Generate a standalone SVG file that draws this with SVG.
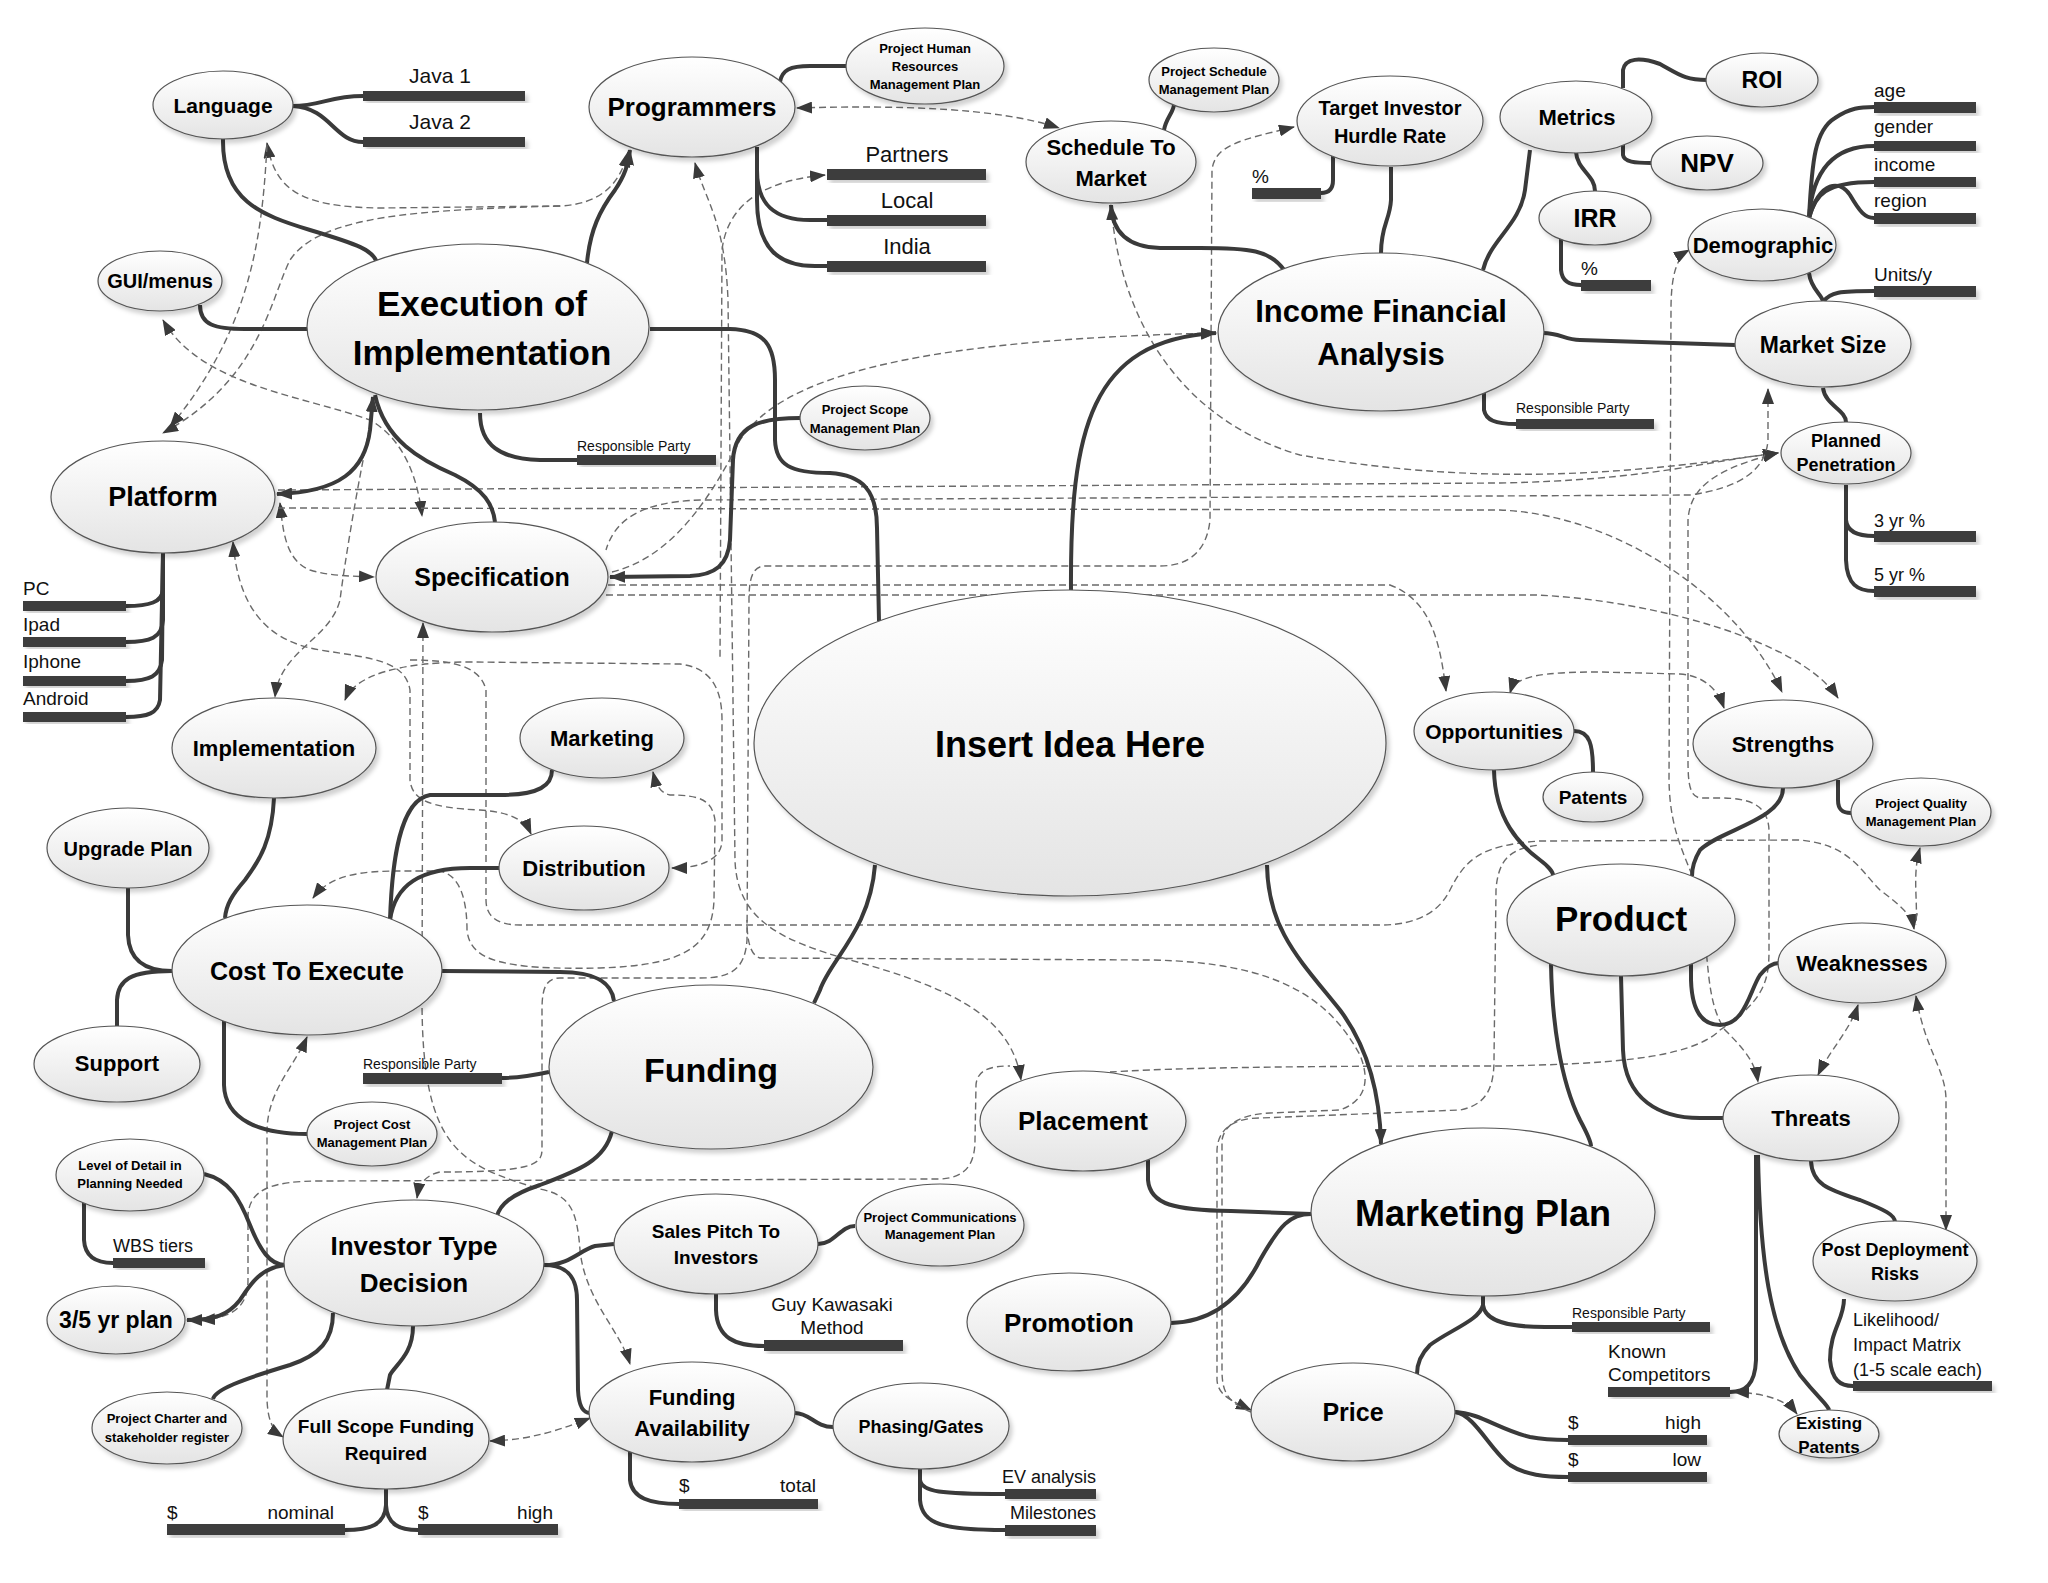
<svg xmlns="http://www.w3.org/2000/svg" width="2048" height="1583" viewBox="0 0 2048 1583">
<defs>
<linearGradient id="g" x1="0" y1="0" x2="0" y2="1"><stop offset="0" stop-color="#ffffff"/><stop offset="1" stop-color="#e4e4e4"/></linearGradient>
<filter id="sh" x="-10%" y="-10%" width="125%" height="130%"><feDropShadow dx="3" dy="4" stdDeviation="2" flood-color="#000" flood-opacity="0.18"/></filter>
<marker id="ah" viewBox="0 0 16 12" refX="15" refY="6" markerWidth="16" markerHeight="12" markerUnits="userSpaceOnUse" orient="auto-start-reverse"><path d="M0,0 L16,6 L0,12 z" fill="#3a3a3a"/></marker>
</defs>
<style>
.n{fill:url(#g);stroke:#555;stroke-width:1.2;filter:url(#sh)}
.b{fill:#3c3c3c;filter:url(#sh)}
.t{font-family:"Liberation Sans",Arial,sans-serif;font-weight:bold;fill:#000;text-anchor:middle}
.l{font-family:"Liberation Sans",Arial,sans-serif;fill:#111}
.s{fill:none;stroke:#3a3a3a;stroke-width:4}
.d{fill:none;stroke:#6a6a6a;stroke-width:1.4;stroke-dasharray:7 4}
.e{marker-end:url(#ah)}
.st{marker-start:url(#ah)}
</style>
<rect width="2048" height="1583" fill="#fff"/>
<g id="connectors">
<!-- dashed -->
<path class="d st e" d="M797,108 C900,105 1000,108 1059,128"/>
<path class="d st e" d="M267,143 C275,190 300,207 380,208 L560,206 C600,204 620,185 628,152"/>
<path class="d e" d="M267,145 C262,240 250,330 170,427"/>
<path class="d e" d="M560,206 C420,210 320,215 290,260 C270,300 260,380 163,433"/>
<path class="d st e" d="M163,320 C200,385 300,395 370,420 C405,440 418,480 422,516"/>
<path class="d st e" d="M280,503 C283,530 285,560 310,570 C330,576 350,576 374,577"/>
<path class="d e" d="M278,490 L1000,486 L1500,483 C1650,480 1700,462 1778,453"/>
<path class="d e" d="M278,508 L1500,510 C1620,515 1740,600 1782,692"/>
<path class="d e" d="M608,585 L1390,585 C1430,600 1440,640 1446,691"/>
<path class="d e" d="M606,595 L1536,595 C1650,600 1800,640 1838,698"/>
<path class="d st e" d="M1111,205 C1120,320 1180,420 1300,455 C1500,490 1650,470 1778,453"/>
<path class="d st e" d="M1294,127 C1240,140 1215,145 1212,170 L1210,520 C1207,550 1190,566 1160,566 L765,566 C752,566 749,580 749,600 L747,940 C745,970 730,978 700,978 L560,978 C545,978 542,990 542,1010 L542,1150 C542,1165 530,1172 440,1172 C425,1175 419,1185 417,1198"/>
<path class="d st e" d="M695,163 C705,200 725,220 728,300 L735,860 C737,920 780,940 850,960 C960,990 1012,1020 1021,1080"/>
<path class="d st" d="M200,1320 C235,1318 248,1305 248,1280 L248,1215 C250,1190 270,1181 320,1181 L940,1179 C965,1178 975,1165 975,1140 L976,1085 C977,1070 990,1066 1010,1066"/>
<path class="d st e" d="M307,1037 C295,1065 268,1090 267,1130 L267,1400 C268,1420 272,1430 283,1437"/>
<path class="d st e" d="M490,1441 C530,1440 560,1430 590,1418"/>
<path class="d st e" d="M423,623 L422,1000 C422,1150 460,1165 540,1189 C570,1195 577,1210 580,1250 C585,1300 620,1330 630,1364"/>
<path class="d e" d="M372,417 C360,470 345,560 340,600 C330,640 280,650 275,697"/>
<path class="d st e" d="M345,700 C355,675 400,662 470,662 L680,664 C712,668 722,690 722,720 L722,840 C722,860 700,868 672,868"/>
<path class="d st" d="M825,175 C770,180 728,200 722,250 L720,660"/>
<path class="d st e" d="M313,898 C330,875 360,871 400,871 L440,871 C460,875 467,900 467,930 C470,960 500,970 600,968 C680,965 712,950 714,900 L715,820 C712,800 700,795 670,795 C660,793 656,785 653,772"/>
<path class="d st e" d="M233,542 C238,600 260,640 320,650 C370,658 405,660 410,690 L410,780 C412,800 430,808 480,810 C510,812 525,820 531,834"/>
<path class="d e" d="M410,660 C450,660 480,665 486,690 L486,900 C486,915 495,925 520,925 L1380,925 C1420,925 1440,910 1450,890 C1465,860 1480,845 1540,841 L1800,840 C1850,845 1860,870 1880,890 C1900,905 1912,915 1914,929"/>
<path class="d st e" d="M1689,250 C1675,258 1671,280 1671,310 L1669,780 C1670,840 1690,860 1700,900 C1710,960 1705,1000 1725,1030 C1745,1050 1755,1062 1758,1082"/>
<path class="d st e" d="M1510,693 C1515,676 1540,672 1600,672 L1680,674 C1705,676 1718,690 1724,708"/>
<path class="d st" d="M1920,848 C1912,875 1918,900 1916,925"/>
<path class="d st e" d="M1858,1005 C1850,1030 1830,1050 1818,1075"/>
<path class="d st e" d="M1916,996 C1925,1050 1946,1070 1946,1100 L1946,1230"/>
<path class="d st e" d="M1734,1392 C1760,1393 1785,1398 1797,1414"/>
<path class="d e" d="M1110,1072 C1200,1066 1400,1066 1500,1066 C1600,1064 1690,1060 1720,1030 C1765,1000 1769,980 1769,950 L1769,830 C1768,805 1750,798 1720,798 L1700,798 C1690,796 1688,785 1688,760 L1688,520 C1690,490 1710,470 1778,453"/>
<path class="d st" d="M1251,1410 C1230,1400 1218,1395 1217,1380 L1217,1150 C1218,1128 1235,1118 1260,1118 L1460,1110 C1485,1105 1494,1090 1494,1060 L1496,890 C1498,860 1510,848 1540,845"/>
<path class="d" d="M1251,1412 C1226,1402 1222,1390 1222,1370 L1222,1140 C1225,1122 1245,1114 1270,1113 L1340,1110 C1362,1102 1372,1085 1360,1055 C1330,1000 1280,962 1150,960 L760,958 C750,955 747,940 747,920"/>
<path class="d e" d="M612,572 C660,560 700,520 740,440 C780,380 900,340 1216,333"/>
<path class="d st" d="M1768,389 L1768,440 C1766,470 1740,488 1690,495 L700,500 C640,502 615,520 606,550"/>
<!-- solid -->
<path class="s" d="M293,106 C320,106 330,96 363,96"/>
<path class="s" d="M293,106 C330,108 335,142 363,142"/>
<path class="s" d="M223,139 C222,200 260,215 310,230 C360,245 372,250 377,262"/>
<path class="s" d="M200,305 C200,325 215,329 245,329 L307,329"/>
<path class="s st e" d="M277,494 C340,492 365,470 370,430 L373,397"/>
<path class="s" d="M375,395 C385,440 420,460 455,475 C485,490 493,505 495,522"/>
<path class="s" d="M480,413 C480,445 500,459 540,460 L577,460"/>
<path class="s e" d="M587,263 C590,230 600,210 615,190 C625,175 628,165 630,150"/>
<path class="s" d="M780,82 C782,70 790,66 810,66 L846,66"/>
<path class="s" d="M757,147 L757,170 C757,205 775,220 810,220 L827,220"/>
<path class="s" d="M757,147 L757,200 C757,250 780,266 815,266 L827,266"/>
<path class="s" d="M650,329 L730,329 C765,330 775,345 775,380 L775,440 C776,465 790,473 830,473 C862,475 877,490 877,528 L879,621"/>
<path class="s e" d="M800,418 C760,418 735,425 733,460 L730,540 C728,565 715,575 690,576 L610,577"/>
<path class="s" d="M1284,270 C1270,250 1250,248 1200,248 L1160,248 C1125,247 1112,230 1111,205"/>
<path class="s" d="M1164,130 C1166,118 1174,112 1174,104"/>
<path class="s" d="M1333,155 L1333,180 C1333,190 1328,193 1321,193"/>
<path class="s" d="M1391,167 L1391,200 C1390,220 1381,225 1381,253"/>
<path class="s e" d="M1071,590 C1070,430 1090,340 1216,333"/>
<path class="s" d="M1483,270 C1490,240 1520,225 1525,190 L1530,150"/>
<path class="s" d="M1623,88 L1623,70 C1625,58 1640,57 1660,64 C1680,75 1685,80 1707,80"/>
<path class="s" d="M1623,145 L1623,155 C1624,162 1635,163 1651,163"/>
<path class="s" d="M1576,152 C1577,170 1595,175 1595,191"/>
<path class="s" d="M1561,238 L1561,270 C1562,282 1570,285 1581,285"/>
<path class="s" d="M1543,333 C1560,333 1565,340 1580,340 L1735,345"/>
<path class="s" d="M1809,218 C1812,160 1815,130 1835,118 C1850,108 1860,107 1874,107"/>
<path class="s" d="M1809,218 C1812,175 1830,146 1874,146"/>
<path class="s" d="M1809,218 C1815,195 1825,182 1874,182"/>
<path class="s" d="M1809,218 C1820,180 1840,180 1850,195 C1860,212 1865,218 1874,218"/>
<path class="s" d="M1809,273 C1811,290 1823,295 1823,302"/>
<path class="s" d="M1823,302 C1830,292 1840,291 1874,291"/>
<path class="s" d="M1823,388 C1825,405 1846,410 1846,422"/>
<path class="s" d="M1846,485 L1846,520 C1847,532 1858,536 1874,536"/>
<path class="s" d="M1846,485 L1846,560 C1847,585 1858,591 1874,591"/>
<path class="s" d="M1484,393 L1484,410 C1486,420 1495,424 1516,424"/>
<path class="s" d="M163,553 L163,590 C162,602 150,606 126,606"/>
<path class="s" d="M163,553 L163,620 C162,638 150,642 126,642"/>
<path class="s" d="M163,553 L162,660 C160,676 150,681 126,681"/>
<path class="s" d="M163,553 L160,700 C158,713 148,717 126,717"/>
<path class="s" d="M274,798 C272,840 260,860 245,880 C232,895 226,905 225,918"/>
<path class="s" d="M128,888 L128,935 C129,960 145,971 172,971"/>
<path class="s" d="M117,1026 L117,1000 C118,980 130,971 172,971"/>
<path class="s" d="M390,920 C392,860 400,800 430,795 L500,795 C540,795 552,785 552,770"/>
<path class="s" d="M390,920 C395,885 420,868 470,868 L499,868"/>
<path class="s" d="M442,971 L560,972 C600,972 612,985 614,1001"/>
<path class="s" d="M875,865 C870,930 830,960 820,990 L814,1003"/>
<path class="s e" d="M1267,865 C1268,930 1300,960 1340,1010 C1370,1050 1380,1100 1381,1144"/>
<path class="s" d="M1574,731 C1590,731 1593,745 1593,772"/>
<path class="s" d="M1494,770 C1495,820 1520,845 1540,860 C1548,866 1553,872 1553,875"/>
<path class="s" d="M1783,788 C1783,820 1720,830 1700,850 C1694,860 1692,868 1692,876"/>
<path class="s" d="M1838,780 L1838,800 C1838,812 1845,813 1851,813"/>
<path class="s" d="M1691,961 L1691,980 C1692,1015 1705,1025 1720,1025 C1745,1025 1750,990 1760,975 C1768,965 1775,963 1779,963"/>
<path class="s" d="M1621,976 L1623,1050 C1625,1100 1660,1118 1700,1118 L1723,1118"/>
<path class="s" d="M1551,964 C1552,1020 1560,1080 1580,1120 C1588,1135 1591,1143 1591,1146"/>
<path class="s" d="M1811,1161 C1812,1185 1830,1190 1860,1200 C1885,1210 1895,1215 1895,1222"/>
<path class="s" d="M1756,1155 L1756,1360 C1755,1385 1745,1392 1730,1392"/>
<path class="s" d="M1758,1155 C1760,1260 1770,1330 1800,1375 C1820,1400 1828,1405 1829,1410"/>
<path class="s" d="M1844,1299 C1844,1320 1830,1330 1830,1360 C1832,1380 1840,1386 1853,1386"/>
<path class="s" d="M1483,1296 L1483,1305 C1485,1322 1510,1327 1545,1327 L1572,1327"/>
<path class="s" d="M1483,1296 L1483,1305 C1480,1320 1450,1330 1430,1345 C1420,1355 1417,1365 1417,1374"/>
<path class="s" d="M1455,1412 C1480,1413 1500,1430 1530,1437 C1545,1440 1555,1440 1568,1440"/>
<path class="s" d="M1455,1412 C1475,1415 1490,1450 1510,1465 C1525,1475 1545,1477 1568,1477"/>
<path class="s" d="M1148,1160 L1148,1180 C1150,1205 1175,1210 1231,1211 L1311,1214"/>
<path class="s" d="M1171,1323 C1210,1322 1240,1300 1260,1260 C1280,1225 1290,1214 1311,1214"/>
<path class="s" d="M224,1021 L224,1085 C225,1120 260,1134 307,1134"/>
<path class="s" d="M502,1078 C520,1078 535,1075 549,1072"/>
<path class="s" d="M612,1131 C605,1160 580,1170 540,1185 C510,1195 500,1205 497,1216"/>
<path class="s" d="M204,1174 C230,1180 240,1200 250,1225 C260,1250 270,1265 285,1265"/>
<path class="s" d="M84,1203 L84,1240 C85,1258 98,1263 113,1263"/>
<path class="s e" d="M285,1265 C260,1268 250,1285 240,1300 C228,1315 215,1320 187,1320"/>
<path class="s" d="M333,1313 C333,1340 320,1355 290,1365 C240,1380 215,1390 213,1399"/>
<path class="s" d="M413,1326 C413,1355 395,1365 390,1375 L387,1390"/>
<path class="s" d="M386,1489 L386,1505 C385,1525 370,1530 345,1530"/>
<path class="s" d="M386,1489 L386,1505 C387,1525 400,1530 418,1530"/>
<path class="s" d="M544,1265 C570,1265 580,1250 595,1246 L614,1244"/>
<path class="s" d="M544,1265 C570,1265 577,1280 577,1300 L578,1390 C579,1410 585,1413 590,1413"/>
<path class="s" d="M818,1244 C835,1244 840,1226 855,1226"/>
<path class="s" d="M716,1293 L716,1310 C717,1338 735,1346 764,1346"/>
<path class="s" d="M795,1413 C810,1413 815,1427 833,1427"/>
<path class="s" d="M630,1451 L630,1480 C632,1498 650,1504 679,1504"/>
<path class="s" d="M920,1469 L920,1480 C922,1492 940,1494 1005,1494"/>
<path class="s" d="M920,1469 L920,1500 C922,1525 945,1530 1005,1530"/>
</g>
<g id="nodes">
<g id="language"><ellipse class="n" cx="223" cy="105" rx="70" ry="34"/><text class="t" x="223" y="113" font-size="21">Language</text></g>
<g id="java1"><rect class="b" x="363" y="91" width="162" height="10"/><text class="l" x="440" y="83" font-size="21" text-anchor="middle">Java 1</text></g>
<g id="java2"><rect class="b" x="363" y="137" width="162" height="10"/><text class="l" x="440" y="129" font-size="21" text-anchor="middle">Java 2</text></g>
<g id="gui"><ellipse class="n" cx="160" cy="281" rx="62" ry="30"/><text class="t" x="160" y="288" font-size="20">GUI/menus</text></g>
<g id="execution"><ellipse class="n" cx="478" cy="327" rx="171" ry="83"/><text class="t" x="482" y="316" font-size="35">Execution of</text><text class="t" x="482" y="365" font-size="35">Implementation</text></g>
<g id="platform"><ellipse class="n" cx="163" cy="497" rx="112" ry="56"/><text class="t" x="163" y="506" font-size="27">Platform</text></g>
<g id="programmers"><ellipse class="n" cx="692" cy="107" rx="103" ry="50"/><text class="t" x="692" y="116" font-size="26">Programmers</text></g>
<g id="phrmp"><ellipse class="n" cx="925" cy="66" rx="79" ry="38"/><text class="t" x="925" y="53" font-size="13">Project Human</text><text class="t" x="925" y="71" font-size="13">Resources</text><text class="t" x="925" y="89" font-size="13">Management Plan</text></g>
<g id="partners"><rect class="b" x="827" y="169" width="159" height="11"/><text class="l" x="907" y="162" font-size="22" text-anchor="middle">Partners</text></g>
<g id="local"><rect class="b" x="827" y="215" width="159" height="11"/><text class="l" x="907" y="208" font-size="22" text-anchor="middle">Local</text></g>
<g id="india"><rect class="b" x="827" y="261" width="159" height="11"/><text class="l" x="907" y="254" font-size="22" text-anchor="middle">India</text></g>
<g id="rp-exec"><rect class="b" x="577" y="455" width="139" height="10"/><text class="l" x="577" y="451" font-size="14">Responsible Party</text></g>
<g id="psmp"><ellipse class="n" cx="1214" cy="80" rx="65" ry="32"/><text class="t" x="1214" y="76" font-size="13">Project Schedule</text><text class="t" x="1214" y="94" font-size="13">Management Plan</text></g>
<g id="stm"><ellipse class="n" cx="1111" cy="162" rx="85" ry="41"/><text class="t" x="1111" y="155" font-size="22">Schedule To</text><text class="t" x="1111" y="186" font-size="22">Market</text></g>
<g id="tihr"><ellipse class="n" cx="1390" cy="121" rx="93" ry="45"/><text class="t" x="1390" y="115" font-size="20">Target Investor</text><text class="t" x="1390" y="143" font-size="20">Hurdle Rate</text></g>
<g id="pct-tihr"><rect class="b" x="1252" y="188" width="69" height="11"/><text class="l" x="1252" y="183" font-size="19">%</text></g>
<g id="ifa"><ellipse class="n" cx="1381" cy="332" rx="163" ry="79"/><text class="t" x="1381" y="322" font-size="31">Income Financial</text><text class="t" x="1381" y="365" font-size="31">Analysis</text></g>
<g id="rp-ifa"><rect class="b" x="1516" y="419" width="138" height="10"/><text class="l" x="1516" y="413" font-size="14">Responsible Party</text></g>
<g id="metrics"><ellipse class="n" cx="1576" cy="117" rx="76" ry="36"/><text class="t" x="1577" y="125" font-size="22">Metrics</text></g>
<g id="roi"><ellipse class="n" cx="1762" cy="80" rx="56" ry="27"/><text class="t" x="1762" y="88" font-size="23">ROI</text></g>
<g id="npv"><ellipse class="n" cx="1707" cy="163" rx="56" ry="27"/><text class="t" x="1707" y="172" font-size="26">NPV</text></g>
<g id="irr"><ellipse class="n" cx="1595" cy="218" rx="56" ry="27"/><text class="t" x="1595" y="227" font-size="25">IRR</text></g>
<g id="pct-irr"><rect class="b" x="1581" y="280" width="70" height="11"/><text class="l" x="1581" y="275" font-size="19">%</text></g>
<g id="demographic"><ellipse class="n" cx="1762" cy="245" rx="74" ry="36"/><text class="t" x="1763" y="253" font-size="22">Demographic</text></g>
<g id="age"><rect class="b" x="1874" y="102" width="102" height="11"/><text class="l" x="1874" y="97" font-size="19">age</text></g>
<g id="gender"><rect class="b" x="1874" y="141" width="102" height="10"/><text class="l" x="1874" y="133" font-size="19">gender</text></g>
<g id="income"><rect class="b" x="1874" y="177" width="102" height="10"/><text class="l" x="1874" y="171" font-size="19">income</text></g>
<g id="region"><rect class="b" x="1874" y="213" width="102" height="11"/><text class="l" x="1874" y="207" font-size="19">region</text></g>
<g id="unitsy"><rect class="b" x="1874" y="286" width="102" height="11"/><text class="l" x="1874" y="281" font-size="19">Units/y</text></g>
<g id="marketsize"><ellipse class="n" cx="1823" cy="344" rx="88" ry="43"/><text class="t" x="1823" y="353" font-size="23">Market Size</text></g>
<g id="pp"><ellipse class="n" cx="1846" cy="453" rx="65" ry="31"/><text class="t" x="1846" y="447" font-size="18">Planned</text><text class="t" x="1846" y="471" font-size="18">Penetration</text></g>
<g id="yr3"><rect class="b" x="1874" y="531" width="102" height="11"/><text class="l" x="1874" y="527" font-size="18">3 yr %</text></g>
<g id="yr5"><rect class="b" x="1874" y="586" width="102" height="11"/><text class="l" x="1874" y="581" font-size="18">5 yr %</text></g>
<g id="pscopemp"><ellipse class="n" cx="865" cy="418" rx="65" ry="32"/><text class="t" x="865" y="414" font-size="13">Project Scope</text><text class="t" x="865" y="433" font-size="13">Management Plan</text></g>
<g id="specification"><ellipse class="n" cx="492" cy="577" rx="116" ry="55"/><text class="t" x="492" y="586" font-size="25">Specification</text></g>
<g id="pc"><rect class="b" x="23" y="601" width="103" height="10"/><text class="l" x="23" y="595" font-size="19">PC</text></g>
<g id="ipad"><rect class="b" x="23" y="637" width="103" height="10"/><text class="l" x="23" y="631" font-size="19">Ipad</text></g>
<g id="iphone"><rect class="b" x="23" y="676" width="103" height="10"/><text class="l" x="23" y="668" font-size="19">Iphone</text></g>
<g id="android"><rect class="b" x="23" y="712" width="103" height="10"/><text class="l" x="23" y="705" font-size="19">Android</text></g>
<g id="implementation"><ellipse class="n" cx="274" cy="748" rx="102" ry="50"/><text class="t" x="274" y="756" font-size="22">Implementation</text></g>
<g id="upgrade"><ellipse class="n" cx="128" cy="848" rx="81" ry="40"/><text class="t" x="128" y="856" font-size="20">Upgrade Plan</text></g>
<g id="cost"><ellipse class="n" cx="307" cy="970" rx="135" ry="65"/><text class="t" x="307" y="980" font-size="25">Cost To Execute</text></g>
<g id="support"><ellipse class="n" cx="117" cy="1064" rx="83" ry="38"/><text class="t" x="117" y="1071" font-size="22">Support</text></g>
<g id="marketing"><ellipse class="n" cx="602" cy="738" rx="82" ry="40"/><text class="t" x="602" y="746" font-size="22">Marketing</text></g>
<g id="distribution"><ellipse class="n" cx="584" cy="868" rx="85" ry="42"/><text class="t" x="584" y="876" font-size="22">Distribution</text></g>
<g id="idea"><ellipse class="n" cx="1070" cy="743" rx="316" ry="153"/><text class="t" x="1070" y="757" font-size="36">Insert Idea Here</text></g>
<g id="funding"><ellipse class="n" cx="711" cy="1067" rx="162" ry="82"/><text class="t" x="711" y="1082" font-size="34">Funding</text></g>
<g id="rp-funding"><rect class="b" x="363" y="1073" width="139" height="11"/><text class="l" x="363" y="1069" font-size="14">Responsible Party</text></g>
<g id="opportunities"><ellipse class="n" cx="1494" cy="731" rx="80" ry="39"/><text class="t" x="1494" y="739" font-size="21">Opportunities</text></g>
<g id="patents"><ellipse class="n" cx="1593" cy="797" rx="50" ry="25"/><text class="t" x="1593" y="804" font-size="19">Patents</text></g>
<g id="strengths"><ellipse class="n" cx="1783" cy="744" rx="90" ry="44"/><text class="t" x="1783" y="752" font-size="22">Strengths</text></g>
<g id="pqmp"><ellipse class="n" cx="1921" cy="812" rx="70" ry="34"/><text class="t" x="1921" y="808" font-size="13">Project Quality</text><text class="t" x="1921" y="826" font-size="13">Management Plan</text></g>
<g id="product"><ellipse class="n" cx="1621" cy="920" rx="114" ry="56"/><text class="t" x="1621" y="931" font-size="35">Product</text></g>
<g id="weaknesses"><ellipse class="n" cx="1862" cy="963" rx="84" ry="40"/><text class="t" x="1862" y="971" font-size="22">Weaknesses</text></g>
<g id="threats"><ellipse class="n" cx="1811" cy="1118" rx="88" ry="43"/><text class="t" x="1811" y="1126" font-size="22">Threats</text></g>
<g id="pdr"><ellipse class="n" cx="1895" cy="1261" rx="82" ry="40"/><text class="t" x="1895" y="1256" font-size="18">Post Deployment</text><text class="t" x="1895" y="1280" font-size="18">Risks</text></g>
<g id="likelihood"><rect class="b" x="1853" y="1381" width="139" height="10"/><text class="l" x="1853" y="1326" font-size="18">Likelihood/</text><text class="l" x="1853" y="1351" font-size="18">Impact Matrix</text><text class="l" x="1853" y="1376" font-size="18">(1-5 scale each)</text></g>
<g id="known"><rect class="b" x="1608" y="1387" width="122" height="10"/><text class="l" x="1608" y="1358" font-size="19">Known</text><text class="l" x="1608" y="1381" font-size="19">Competitors</text></g>
<g id="existing"><ellipse class="n" cx="1829" cy="1434" rx="50" ry="24"/><text class="t" x="1829" y="1429" font-size="17">Existing</text><text class="t" x="1829" y="1453" font-size="17">Patents</text></g>
<g id="mplan"><ellipse class="n" cx="1483" cy="1212" rx="172" ry="84"/><text class="t" x="1483" y="1226" font-size="36">Marketing Plan</text></g>
<g id="rp-mplan"><rect class="b" x="1572" y="1322" width="138" height="10"/><text class="l" x="1572" y="1318" font-size="14">Responsible Party</text></g>
<g id="price"><ellipse class="n" cx="1353" cy="1412" rx="102" ry="49"/><text class="t" x="1353" y="1421" font-size="25">Price</text></g>
<g id="price-high"><rect class="b" x="1568" y="1435" width="139" height="10"/><text class="l" x="1568" y="1429" font-size="19">$</text><text class="l" x="1701" y="1429" font-size="19" text-anchor="end">high</text></g>
<g id="price-low"><rect class="b" x="1568" y="1472" width="139" height="10"/><text class="l" x="1568" y="1466" font-size="19">$</text><text class="l" x="1701" y="1466" font-size="19" text-anchor="end">low</text></g>
<g id="placement"><ellipse class="n" cx="1083" cy="1121" rx="103" ry="50"/><text class="t" x="1083" y="1130" font-size="26">Placement</text></g>
<g id="promotion"><ellipse class="n" cx="1069" cy="1322" rx="102" ry="49"/><text class="t" x="1069" y="1332" font-size="26">Promotion</text></g>
<g id="pcmp"><ellipse class="n" cx="372" cy="1134" rx="65" ry="32"/><text class="t" x="372" y="1129" font-size="13">Project Cost</text><text class="t" x="372" y="1147" font-size="13">Management Plan</text></g>
<g id="lod"><ellipse class="n" cx="130" cy="1175" rx="74" ry="36"/><text class="t" x="130" y="1170" font-size="13">Level of Detail in</text><text class="t" x="130" y="1188" font-size="13">Planning Needed</text></g>
<g id="wbs"><rect class="b" x="113" y="1258" width="92" height="10"/><text class="l" x="113" y="1252" font-size="18">WBS tiers</text></g>
<g id="investor"><ellipse class="n" cx="414" cy="1263" rx="130" ry="63"/><text class="t" x="414" y="1255" font-size="26">Investor Type</text><text class="t" x="414" y="1292" font-size="26">Decision</text></g>
<g id="plan35"><ellipse class="n" cx="116" cy="1320" rx="69" ry="34"/><text class="t" x="116" y="1328" font-size="23">3/5 yr plan</text></g>
<g id="pcsr"><ellipse class="n" cx="167" cy="1428" rx="75" ry="36"/><text class="t" x="167" y="1423" font-size="13">Project Charter and</text><text class="t" x="167" y="1442" font-size="13">stakeholder register</text></g>
<g id="fsfr"><ellipse class="n" cx="386" cy="1439" rx="103" ry="50"/><text class="t" x="386" y="1433" font-size="19">Full Scope Funding</text><text class="t" x="386" y="1460" font-size="19">Required</text></g>
<g id="nominal"><rect class="b" x="167" y="1524" width="178" height="11"/><text class="l" x="167" y="1519" font-size="19">$</text><text class="l" x="334" y="1519" font-size="19" text-anchor="end">nominal</text></g>
<g id="fs-high"><rect class="b" x="418" y="1524" width="140" height="11"/><text class="l" x="418" y="1519" font-size="19">$</text><text class="l" x="553" y="1519" font-size="19" text-anchor="end">high</text></g>
<g id="salespitch"><ellipse class="n" cx="716" cy="1244" rx="102" ry="50"/><text class="t" x="716" y="1238" font-size="19">Sales Pitch To</text><text class="t" x="716" y="1264" font-size="19">Investors</text></g>
<g id="pcommp"><ellipse class="n" cx="940" cy="1225" rx="84" ry="41"/><text class="t" x="940" y="1222" font-size="13">Project Communications</text><text class="t" x="940" y="1239" font-size="13">Management Plan</text></g>
<g id="guy"><rect class="b" x="764" y="1340" width="139" height="11"/><text class="l" x="832" y="1311" font-size="19" text-anchor="middle">Guy Kawasaki</text><text class="l" x="832" y="1334" font-size="19" text-anchor="middle">Method</text></g>
<g id="fa"><ellipse class="n" cx="692" cy="1412" rx="103" ry="50"/><text class="t" x="692" y="1405" font-size="22">Funding</text><text class="t" x="692" y="1436" font-size="22">Availability</text></g>
<g id="total"><rect class="b" x="679" y="1499" width="139" height="10"/><text class="l" x="679" y="1492" font-size="19">$</text><text class="l" x="816" y="1492" font-size="19" text-anchor="end">total</text></g>
<g id="phasing"><ellipse class="n" cx="921" cy="1426" rx="88" ry="43"/><text class="t" x="921" y="1433" font-size="18">Phasing/Gates</text></g>
<g id="ev"><rect class="b" x="1005" y="1489" width="91" height="10"/><text class="l" x="1096" y="1483" font-size="18" text-anchor="end">EV analysis</text></g>
<g id="milestones"><rect class="b" x="1005" y="1525" width="91" height="11"/><text class="l" x="1096" y="1519" font-size="18" text-anchor="end">Milestones</text></g>
</g>
</svg>
